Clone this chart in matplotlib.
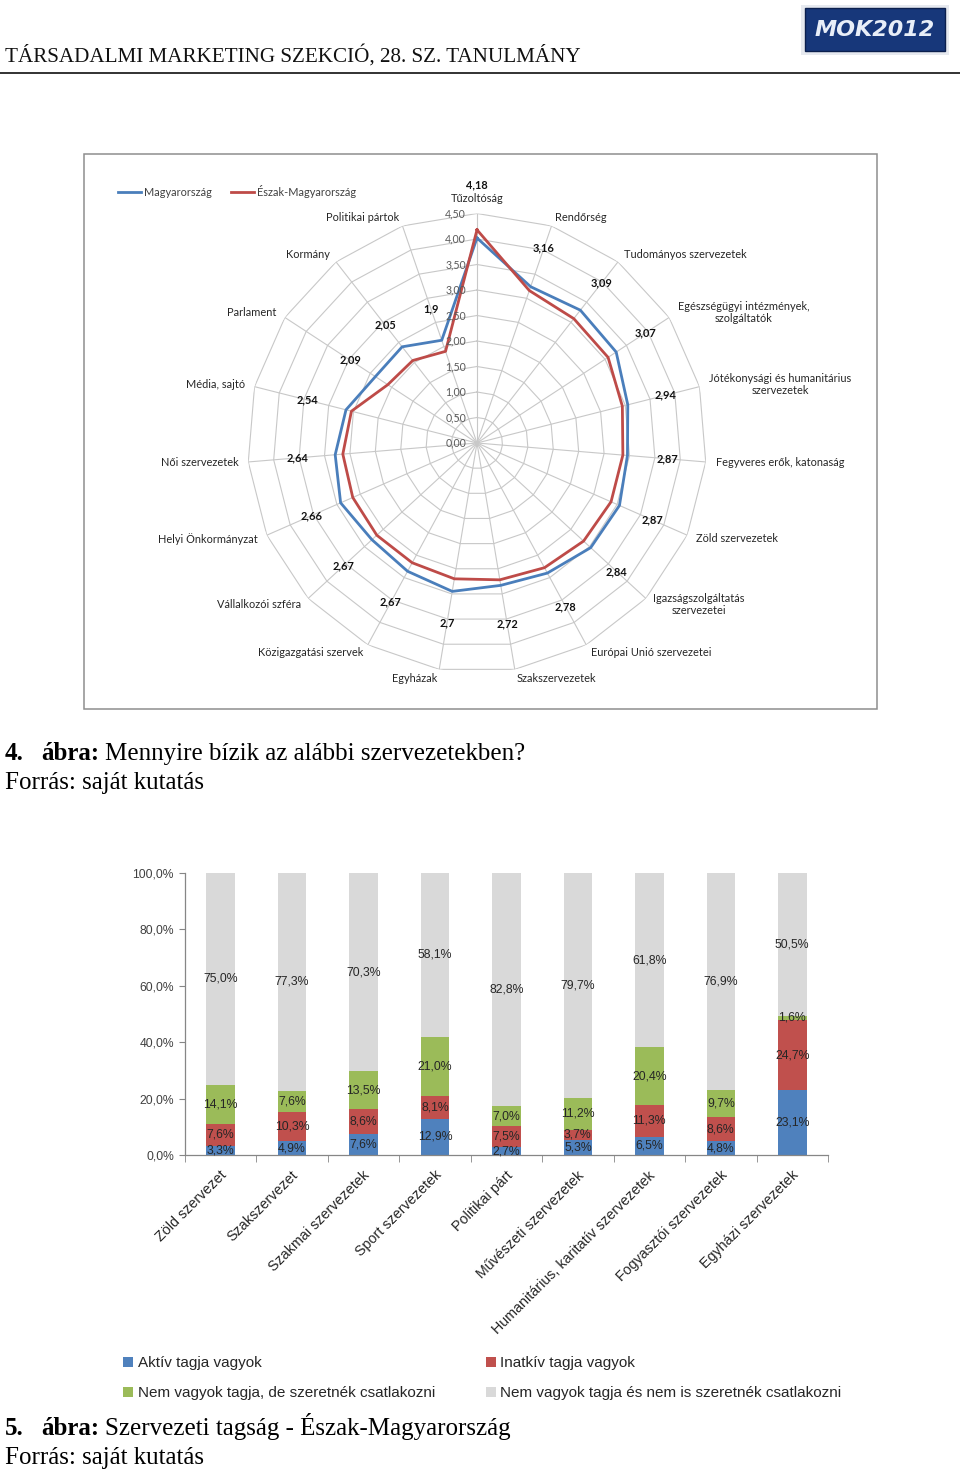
import numpy as np
import matplotlib
matplotlib.use("Agg")
import matplotlib.pyplot as plt
from matplotlib.patches import Rectangle, Patch
from matplotlib.lines import Line2D
from matplotlib.transforms import ScaledTranslation

# ---------------- data: radar chart (figure 4) ----------------
radar_categories = [
    "Tűzoltóság", "Rendőrség", "Tudományos szervezetek",
    "Egészségügyi intézmények,\nszolgáltatók",
    "Jótékonysági és humanitárius\nszervezetek",
    "Fegyveres erők, katonaság", "Zöld szervezetek",
    "Igazságszolgáltatás\nszervezetei", "Európai Unió szervezetei",
    "Szakszervezetek", "Egyházak", "Közigazgatási szervek",
    "Vállalkozói szféra", "Helyi Önkormányzat", "Női szervezetek",
    "Média, sajtó", "Parlament", "Kormány", "Politikai pártok",
]
magyarorszag = [4.02, 3.24, 3.30, 3.26, 3.05, 2.96, 3.05, 3.03, 2.90, 2.83,
                2.95, 2.86, 2.80, 2.92, 2.79, 2.65, 2.38, 2.39, 2.13]
eszak_magyarorszag = [4.18, 3.16, 3.09, 3.07, 2.94, 2.87, 2.87, 2.84, 2.78, 2.72,
                      2.70, 2.67, 2.67, 2.66, 2.64, 2.54, 2.09, 2.05, 1.90]
eszak_labels = ["4,18", "3,16", "3,09", "3,07", "2,94", "2,87", "2,87", "2,84",
                "2,78", "2,72", "2,7", "2,67", "2,67", "2,66", "2,64", "2,54",
                "2,09", "2,05", "1,9"]
radar_ticks = [0.0, 0.5, 1.0, 1.5, 2.0, 2.5, 3.0, 3.5, 4.0, 4.5]
radar_tick_labels = ["0,00", "0,50", "1,00", "1,50", "2,00", "2,50", "3,00",
                     "3,50", "4,00", "4,50"]
radar_series_names = ["Magyarország", "Észak-Magyarország"]

# ---------------- data: stacked bars (figure 5) ----------------
bar_categories = [
    "Zöld szervezet", "Szakszervezet", "Szakmai szervezetek",
    "Sport szervezetek", "Politikai párt", "Művészeti szervezetek",
    "Humanitárius, karitatív szervezetek", "Fogyasztói szervezetek",
    "Egyházi szervezetek",
]
aktiv = [3.3, 4.9, 7.6, 12.9, 2.7, 5.3, 6.5, 4.8, 23.1]
inaktiv = [7.6, 10.3, 8.6, 8.1, 7.5, 3.7, 11.3, 8.6, 24.7]
nem_de_szeretne = [14.1, 7.6, 13.5, 21.0, 7.0, 11.2, 20.4, 9.7, 1.6]
nem_es_nem = [75.0, 77.3, 70.3, 58.1, 82.8, 79.7, 61.8, 76.9, 50.5]
bar_series_names = ["Aktív tagja vagyok", "Inatkív tagja vagyok",
                    "Nem vagyok tagja, de szeretnék csatlakozni",
                    "Nem vagyok tagja és nem is szeretnék csatlakozni"]
y_ticks = [0, 20, 40, 60, 80, 100]
y_tick_labels = ["0,0%", "20,0%", "40,0%", "60,0%", "80,0%", "100,0%"]

# ---------------- page text ----------------
header_text = "TÁRSADALMI MARKETING SZEKCIÓ, 28. SZ. TANULMÁNY"
caption4 = ("4.", "ábra:", "Mennyire bízik az alábbi szervezetekben?")
caption5 = ("5.", "ábra:", "Szervezeti tagság - Észak-Magyarország")
source_text = "Forrás: saját kutatás"

W, H = 960, 1473
fig = plt.figure(figsize=(W / 100, H / 100), dpi=100)
fig.patch.set_facecolor("white")


def fx(px):
    return px / W


def fy(py):
    return 1 - py / H


SERIF = "Liberation Serif"
CHART_FONT = "Lato"
BAR_FONT = "Liberation Sans"
CAP_SIZE = 18

# ---------------- header ----------------
fig.text(fx(5), fy(62), header_text, family=SERIF, fontsize=15.2,
         ha="left", va="baseline", color="#111111")
fig.add_artist(Line2D([0, 1], [fy(73), fy(73)], transform=fig.transFigure,
                      color="#222222", lw=1.3))
# logo
fig.add_artist(Rectangle((fx(801), fy(55)), fx(148), 50 / H,
                         transform=fig.transFigure, facecolor="#e6e9ef",
                         edgecolor="none"))
fig.add_artist(Rectangle((fx(805), fy(51)), fx(140), 43 / H,
                         transform=fig.transFigure, facecolor="#17377a",
                         edgecolor="#0b1f4d", lw=1))
fig.text(fx(875), fy(30), "MOK2012", family="DejaVu Sans", fontsize=16,
         fontweight="bold", style="italic", color="#e8eef8",
         ha="center", va="center")

# ---------------- radar chart ----------------
fig.add_artist(Rectangle((fx(84), fy(709)), fx(877 - 84), (709 - 154) / H,
                         transform=fig.transFigure, fill=False,
                         edgecolor="#8e8e8e", lw=1.1))

cx, cy, R = 477, 443, 229.5
axr = fig.add_axes([fx(cx - R), fy(cy + R), 2 * R / W, 2 * R / H],
                   projection="polar")
axr.set_theta_zero_location("N")
axr.set_theta_direction(-1)
axr.set_ylim(0, 4.5)
axr.grid(False)
axr.set_xticks([])
axr.set_yticks([])
axr.spines["polar"].set_visible(False)
axr.patch.set_alpha(0)

n = len(radar_categories)
theta = np.arange(n) * 2 * np.pi / n
theta_c = np.append(theta, theta[0])

grid_col = "#c8c8c8"
for r in radar_ticks[1:]:
    axr.plot(theta_c, [r] * (n + 1), color=grid_col, lw=0.8, zorder=1)
for t in theta:
    axr.plot([t, t], [0, 4.5], color=grid_col, lw=0.8, zorder=1)

blue = "#4a7ebb"
red = "#be4b48"
axr.plot(theta_c, np.append(magyarorszag, magyarorszag[0]), color=blue,
         lw=2.0, zorder=3, label=radar_series_names[0])
axr.plot(theta_c, np.append(eszak_magyarorszag, eszak_magyarorszag[0]),
         color=red, lw=2.0, zorder=4, label=radar_series_names[1])

# radial tick labels
for r, lab in zip(radar_ticks, radar_tick_labels):
    axr.annotate(lab, xy=(0, r), xytext=(-11, 0), textcoords="offset pixels",
                 ha="right", va="center", fontsize=7.6, family=CHART_FONT,
                 color="#595959", annotation_clip=False, zorder=5)

# category labels
for i, (t, lab) in enumerate(zip(theta, radar_categories)):
    s, c = np.sin(t), np.cos(t)
    if abs(s) < 0.05:
        ha, va, off = "center", "bottom", (0, 10)
    else:
        ha = "left" if s > 0 else "right"
        va = "center"
        off = (10 * s, 9 * c)
    axr.annotate(lab, xy=(t, 4.5), xytext=off, textcoords="offset pixels",
                 ha=ha, va=va, fontsize=7.9, family=CHART_FONT,
                 color="#262626", multialignment="center",
                 annotation_clip=False)

# data labels for Észak-Magyarország
for t, v, lab in zip(theta, eszak_magyarorszag, eszak_labels):
    s, c = np.sin(t), np.cos(t)
    axr.annotate(lab, xy=(t, v), xytext=(45 * s, 45 * c),
                 textcoords="offset pixels", ha="center", va="center",
                 fontsize=7.9, family=CHART_FONT, fontweight="bold",
                 color="#111111", annotation_clip=False, zorder=6)

axr.legend(loc="center left", bbox_to_anchor=(fx(118), fy(191)),
           bbox_transform=fig.transFigure, ncol=2, frameon=False,
           prop={"family": CHART_FONT, "size": 7.9}, handlelength=2.1,
           handletextpad=0.25, columnspacing=1.8, borderpad=0,
           borderaxespad=0, labelcolor="#404040")

# ---------------- captions ----------------
renderer = fig.canvas.get_renderer()


def caption(y_px, parts, size=CAP_SIZE):
    num, abra, rest = parts
    fig.text(fx(5), fy(y_px), num, family=SERIF, fontsize=size,
             fontweight="bold", ha="left", va="baseline", color="black")
    t2 = fig.text(fx(41), fy(y_px), abra, family=SERIF, fontsize=size,
                  fontweight="bold", ha="left", va="baseline", color="black")
    bb = t2.get_window_extent(renderer)
    fig.text(bb.x1 / W + fx(6), fy(y_px), rest, family=SERIF, fontsize=size,
             ha="left", va="baseline", color="black")


caption(760, caption4)
fig.text(fx(5), fy(789), source_text, family=SERIF, fontsize=CAP_SIZE,
         ha="left", va="baseline", color="black")

# ---------------- stacked bar chart ----------------
axb = fig.add_axes([fx(185), fy(1155), fx(828 - 185), (1155 - 873) / H])
x = np.arange(len(bar_categories))
colors = ["#4f81bd", "#c0504d", "#9bbb59", "#d9d9d9"]
series = [aktiv, inaktiv, nem_de_szeretne, nem_es_nem]
bottom = np.zeros(len(x))
handles = []
for vals, col, name in zip(series, colors, bar_series_names):
    vals = np.array(vals)
    axb.bar(x, vals, width=0.4, bottom=bottom, color=col, edgecolor="none",
            label=name, zorder=2)
    for xi, b, v in zip(x, bottom, vals):
        axb.text(xi, b + v / 2, f"{v:.1f}".replace(".", ",") + "%",
                 ha="center", va="center", fontsize=8.8, family=BAR_FONT,
                 color="#262626", zorder=3)
    handles.append(Patch(facecolor=col, edgecolor="none", label=name))
    bottom = bottom + vals

axb.set_xlim(-0.5, len(x) - 0.5)
axb.set_ylim(0, 100)
axb.set_yticks(y_ticks)
axb.set_yticklabels(y_tick_labels, family=BAR_FONT, fontsize=8.7,
                    color="#404040")
axb.set_xticks(x)
axb.set_xticklabels(bar_categories, rotation=45, ha="right", va="center",
                    rotation_mode="anchor", family=BAR_FONT, fontsize=10.3,
                    color="#262626")
axb.tick_params(axis="x", length=0, pad=13)
shift = ScaledTranslation(4 / 100, 0, fig.dpi_scale_trans)
for lab in axb.get_xticklabels():
    lab.set_transform(lab.get_transform() + shift)
axb.set_xticks(np.arange(len(x) + 1) - 0.5, minor=True)
axb.tick_params(axis="x", which="minor", length=5, color="#868686",
                direction="out")
axb.tick_params(axis="y", length=4, color="#868686", direction="out", pad=4)
for sp in ["top", "right"]:
    axb.spines[sp].set_visible(False)
for sp in ["left", "bottom"]:
    axb.spines[sp].set_color("#868686")
    axb.spines[sp].set_linewidth(0.9)

order = [0, 2, 1, 3]
fig.legend([handles[i] for i in order], [bar_series_names[i] for i in order],
           loc="upper left", bbox_to_anchor=(fx(123), fy(1356)),
           bbox_transform=fig.transFigure, ncol=2, frameon=False,
           prop={"family": BAR_FONT, "size": 11}, handlelength=0.65,
           handleheight=0.65, handletextpad=0.3, columnspacing=3.35,
           labelspacing=1.05, borderpad=0, borderaxespad=0,
           labelcolor="#262626")

caption(1435, caption5)
fig.text(fx(5), fy(1464), source_text, family=SERIF, fontsize=CAP_SIZE,
         ha="left", va="baseline", color="black")

fig.savefig("out.png", dpi=100, facecolor="white")
